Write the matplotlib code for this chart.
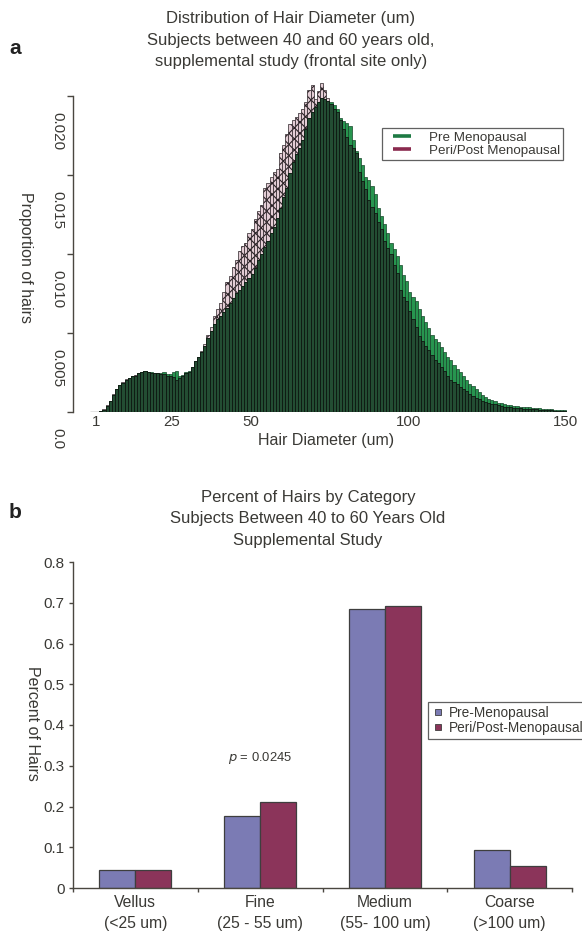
import numpy as np
import matplotlib
matplotlib.use("Agg")
import matplotlib.pyplot as plt
import matplotlib.transforms as mtransforms
from matplotlib.lines import Line2D

plt.rcParams['font.family'] = ['Liberation Sans', 'DejaVu Sans']
plt.rcParams['hatch.linewidth'] = 0.8

TEXT = '#3a3935'

# ---------------- panel a: diameter histogram (1 um bins, 0..149) ----------------
bin_left = np.arange(0, 150)
pre_permille = [
    0.00, 0.00, 0.05, 0.15, 0.40, 0.70, 1.10, 1.45, 1.70, 1.85,
    2.05, 2.15, 2.25, 2.30, 2.45, 2.55, 2.62, 2.55, 2.50, 2.45,
    2.48, 2.45, 2.50, 2.42, 2.40, 2.55, 2.60, 2.30, 2.35, 2.50,
    2.60, 2.85, 3.20, 3.45, 3.80, 4.20, 4.70, 5.10, 5.60, 5.90,
    6.10, 6.35, 6.55, 6.90, 7.20, 7.50, 7.70, 7.95, 8.25, 8.50,
    8.75, 9.10, 9.60, 10.00, 10.45, 10.85, 11.30, 11.70, 12.30, 12.90,
    13.60, 14.20, 15.10, 15.80, 16.30, 16.70, 17.20, 17.90, 18.60, 19.00,
    19.30, 19.60, 19.90, 19.80, 19.70, 19.60, 19.40, 19.20, 18.60, 18.40,
    18.30, 18.10, 17.20, 16.50, 16.10, 15.60, 14.90, 14.70, 14.30, 13.80,
    12.90, 12.40, 11.90, 11.30, 10.70, 10.30, 9.90, 9.30, 8.70, 8.30,
    7.60, 7.30, 7.00, 6.50, 6.10, 5.70, 5.30, 4.90, 4.60, 4.40,
    4.10, 3.80, 3.50, 3.30, 3.00, 2.70, 2.50, 2.25, 2.00, 1.80,
    1.65, 1.45, 1.25, 1.10, 0.95, 0.85, 0.75, 0.68, 0.60, 0.55,
    0.50, 0.45, 0.42, 0.38, 0.36, 0.34, 0.32, 0.30, 0.30, 0.27,
    0.25, 0.23, 0.22, 0.20, 0.18, 0.16, 0.15, 0.13, 0.12, 0.10,
]
peri_permille = [
    0.00, 0.00, 0.05, 0.18, 0.42, 0.72, 1.12, 1.48, 1.72, 1.88,
    2.08, 2.18, 2.26, 2.32, 2.46, 2.55, 2.60, 2.52, 2.48, 2.44,
    2.45, 2.42, 2.38, 2.30, 2.25, 2.20, 2.05, 2.15, 2.30, 2.45,
    2.55, 2.85, 3.20, 3.50, 3.85, 4.30, 4.90, 5.40, 6.10, 6.50,
    6.90, 7.60, 8.20, 8.60, 9.20, 9.60, 10.20, 10.50, 10.70, 11.30,
    11.60, 12.20, 12.70, 13.10, 14.20, 14.50, 14.90, 15.20, 15.40, 16.40,
    16.90, 17.60, 18.20, 18.50, 18.70, 18.90, 19.20, 19.60, 20.40, 20.70,
    19.80, 20.30, 20.80, 20.40, 19.90, 19.50, 19.20, 19.00, 18.50, 17.90,
    17.40, 16.90, 16.70, 16.40, 15.20, 14.60, 14.10, 13.40, 13.00, 12.60,
    12.00, 11.60, 10.80, 10.40, 10.00, 9.30, 8.80, 7.70, 7.30, 7.00,
    6.40, 5.90, 5.40, 4.80, 4.50, 4.20, 3.90, 3.60, 3.30, 3.10,
    2.85, 2.60, 2.30, 2.05, 1.90, 1.75, 1.60, 1.45, 1.30, 1.12,
    1.00, 0.90, 0.80, 0.72, 0.65, 0.58, 0.53, 0.48, 0.42, 0.36,
    0.34, 0.32, 0.30, 0.28, 0.26, 0.24, 0.22, 0.20, 0.19, 0.18,
    0.16, 0.15, 0.14, 0.12, 0.11, 0.10, 0.09, 0.08, 0.07, 0.06,
]
pre_prop = np.array(pre_permille) / 1000.0
peri_prop = np.array(peri_permille) / 1000.0

hist_xticks = [1, 25, 50, 100, 150]
hist_yticks = [0.0, 0.005, 0.010, 0.015, 0.020]
hist_ylabels = ['0.0', '0.005', '0.010', '0.015', '0.020']
hist_series = ['Pre Menopausal', 'Peri/Post Menopausal']

# ---------------- panel b: category proportions ----------------
categories = ['Vellus\n(<25 um)', 'Fine\n(25 - 55 um)', 'Medium\n(55- 100 um)', 'Coarse\n(>100 um)']
cat_pre = [0.045, 0.176, 0.685, 0.093]
cat_peri = [0.043, 0.211, 0.693, 0.055]
cat_series = ['Pre-Menopausal', 'Peri/Post-Menopausal']
cat_yticks = [0, 0.1, 0.2, 0.3, 0.4, 0.5, 0.6, 0.7, 0.8]
cat_ylabels = ['0', '0.1', '0.2', '0.3', '0.4', '0.5', '0.6', '0.7', '0.8']

W, H = 582, 933
fig = plt.figure(figsize=(W / 100, H / 100), dpi=100)

def fbox(x0, y0, x1, y1):
    return [x0 / W, 1 - y1 / H, (x1 - x0) / W, (y1 - y0) / H]

# ---- panel a ----
ax1 = fig.add_axes(fbox(73, 77, 580, 412))
GREEN = '#27954f'
PINK = '#e3cdd5'
DARK = '#2a2226'
# peri/post bars (light, cross-hatched), pre bars in green, and the shared part darkened
ax1.bar(bin_left, peri_prop, width=1.0, align='edge', color=PINK,
        edgecolor=DARK, linewidth=0.5, hatch='xxx', zorder=1)
ax1.bar(bin_left, pre_prop, width=1.0, align='edge', color=GREEN,
        edgecolor='#17452a', linewidth=0.5, zorder=2)
ax1.bar(bin_left, np.minimum(pre_prop, peri_prop), width=1.0, align='edge',
        color='#234d33', edgecolor='#0e1811', linewidth=0.6, zorder=3)
ax1.hlines(0, -1, 150, color='#2a2a2a', linewidth=0.9, zorder=4)

ax1.set_xlim(-6.34, 154.46)
ax1.set_ylim(0, 0.0212)
for s in ['top', 'right', 'bottom']:
    ax1.spines[s].set_visible(False)
ax1.spines['left'].set_bounds(0, 0.020)
ax1.spines['left'].set_color('#4a4740')
ax1.spines['left'].set_linewidth(1.0)
ax1.set_yticks(hist_yticks)
ax1.set_yticklabels([])
ax1.tick_params(axis='y', direction='out', length=4.5, width=1.0, color='#4a4740')
ax1.set_xticks(hist_xticks)
ax1.set_xticklabels([str(t) for t in hist_xticks], fontsize=10.8, color=TEXT)
ax1.tick_params(axis='x', length=0, pad=2)
ax1.set_xlabel('Hair Diameter (um)', fontsize=11.5, color=TEXT, labelpad=3)

ytrans = mtransforms.offset_copy(ax1.get_yaxis_transform(), fig=fig,
                                 x=-16, y=-16, units='dots')
for v, lab in zip(hist_yticks, hist_ylabels):
    ax1.text(0, v, lab, transform=ytrans, rotation=-90, ha='center', va='top',
             fontsize=11, color=TEXT)
fig.text(25 / W, 1 - 257 / H, 'Proportion of hairs', rotation=-90,
         ha='center', va='center', fontsize=11.5, color=TEXT)

leg1 = ax1.legend(
    [Line2D([], [], color='#1d7a43', marker='_', markersize=12.5, markeredgewidth=2.6,
            linestyle='none'),
     Line2D([], [], color='#8a2a4e', marker='_', markersize=12.5, markeredgewidth=2.6,
            linestyle='none')],
    hist_series, loc='upper left', bbox_to_anchor=(382 / W, 1 - 128 / H),
    bbox_transform=fig.transFigure, fontsize=9.6, frameon=True, fancybox=False,
    handlelength=2.5, handletextpad=0.75, borderpad=0.25, labelspacing=0.05,
    borderaxespad=0)
leg1.get_frame().set_edgecolor('#3a3a3a')
leg1.get_frame().set_linewidth(0.9)
for t in leg1.get_texts():
    t.set_color(TEXT)

fig.text(291 / W, 1 - 40 / H,
         'Distribution of Hair Diameter (um)\nSubjects between 40 and 60 years old,\n'
         'supplemental study (frontal site only)',
         ha='center', va='center', fontsize=12, color=TEXT, linespacing=1.55)
fig.text(15 / W, 1 - 48 / H, 'a', ha='center', va='center', fontsize=15,
         fontweight='bold', color='#222222')

# ---- panel b ----
ax2 = fig.add_axes(fbox(73, 562, 572, 888))
xpos = np.arange(len(categories))
bw = 0.289
ax2.bar(xpos - bw / 2, cat_pre, width=bw, color='#7b7bb4', edgecolor='#3e3e3e',
        linewidth=0.9, label=cat_series[0])
ax2.bar(xpos + bw / 2, cat_peri, width=bw, color='#8b345a', edgecolor='#3e3e3e',
        linewidth=0.9, label=cat_series[1])
ax2.set_xlim(-0.5, 3.5)
ax2.set_ylim(0, 0.8)
for s in ['top', 'right']:
    ax2.spines[s].set_visible(False)
for s in ['left', 'bottom']:
    ax2.spines[s].set_color('#4a4740')
    ax2.spines[s].set_linewidth(1.0)
ax2.set_yticks(cat_yticks)
ax2.set_yticklabels(cat_ylabels, fontsize=11, color=TEXT)
ax2.tick_params(axis='y', direction='out', length=3, width=1.0, color='#4a4740', pad=3)
ax2.set_xticks(xpos)
ax2.set_xticklabels(categories, fontsize=11.3, color=TEXT, linespacing=1.5)
ax2.tick_params(axis='x', which='major', length=0, pad=5)
ax2.set_xticks(np.arange(-0.5, 4.0, 1.0), minor=True)
ax2.tick_params(axis='x', which='minor', direction='out', length=3, width=1.0, color='#4a4740')
ax2.set_ylabel('Percent of Hairs', fontsize=11.5, color=TEXT, rotation=-90)
ax2.yaxis.set_label_coords(25 / W, 1 - 723 / H, transform=fig.transFigure)

ax2.text(1.0, 0.318, '$\\it{p}$ = 0.0245', ha='center', va='center', fontsize=9.4,
         color=TEXT, transform=ax2.transData)

h = [Line2D([], [], marker='s', linestyle='none', markersize=4.5,
            markerfacecolor='#7b7bb4', markeredgecolor='#3e3e3e', markeredgewidth=0.6),
     Line2D([], [], marker='s', linestyle='none', markersize=4.5,
            markerfacecolor='#8b345a', markeredgecolor='#3e3e3e', markeredgewidth=0.6)]
leg2 = ax2.legend(h, cat_series, loc='center left',
                  bbox_to_anchor=(428 / W, 1 - 720.5 / H), bbox_transform=fig.transFigure,
                  fontsize=9.8, frameon=True, fancybox=False, handlelength=0.9,
                  handletextpad=0.4, borderpad=0.25, labelspacing=0.1, borderaxespad=0)
leg2.get_frame().set_edgecolor('#3a3a3a')
leg2.get_frame().set_linewidth(0.9)
for t in leg2.get_texts():
    t.set_color(TEXT)

fig.text(308 / W, 1 - 519 / H,
         'Percent of Hairs by Category\nSubjects Between 40 to 60 Years Old\nSupplemental Study',
         ha='center', va='center', fontsize=12, color=TEXT, linespacing=1.55)
fig.text(15 / W, 1 - 512 / H, 'b', ha='center', va='center', fontsize=15,
         fontweight='bold', color='#222222')

fig.savefig('out.png', dpi=100)
